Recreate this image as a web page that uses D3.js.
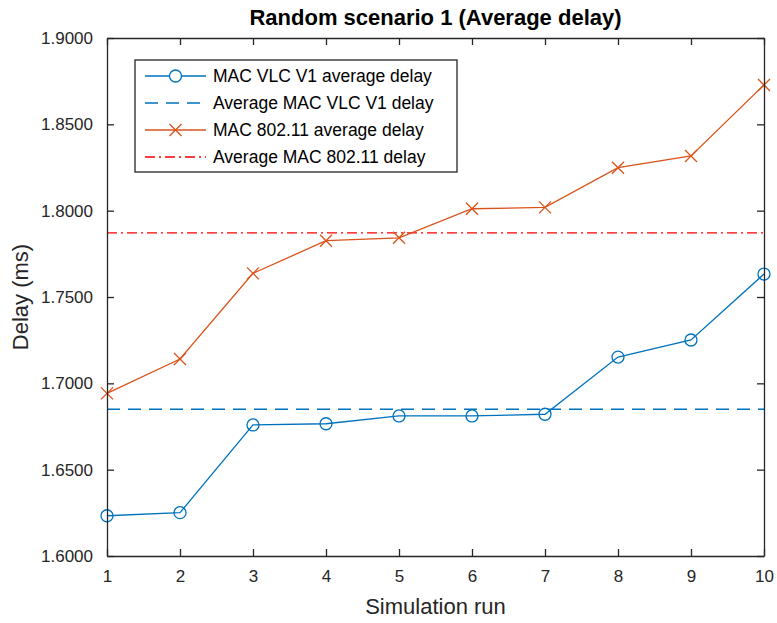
<!DOCTYPE html>
<meta charset="utf-8">
<head>
    <title>Random scenario 1 (Average delay)</title>
    <style>
        body { margin: 0; background: #fff; }
        text { font-family: "Liberation Sans", Arial, sans-serif; fill: #262626; }
    </style>
</head>
<body>
    <script src="https://d3js.org/d3.v7.min.js"></script>
    <script>
        // chart data
        var runs = [1, 2, 3, 4, 5, 6, 7, 8, 9, 10];
        var vlcDelay = [1.6233, 1.6251, 1.6759, 1.6766, 1.6811, 1.6811, 1.6821, 1.7152, 1.7251, 1.7633];
        var wifiDelay = [1.6942, 1.7141, 1.7637, 1.7826, 1.7843, 1.8011, 1.8019, 1.8249, 1.8317, 1.8728];
        var vlcAverage = 1.6850;
        var wifiAverage = 1.7871;
        var yTicks = [1.60, 1.65, 1.70, 1.75, 1.80, 1.85, 1.90];
        var legendLabels = ["MAC VLC V1 average delay", "Average MAC VLC V1 delay",
            "MAC 802.11 average delay", "Average MAC 802.11 delay"];

        var blue = "#0072BD", orange = "#D95319", red = "#FF0000", axisColor = "#262626";

        // margins and dimensions
        var margin = { top: 38, right: 13, bottom: 67, left: 107 };
        var width = 777 - margin.left - margin.right;
        var height = 623 - margin.top - margin.bottom;

        var svg = d3.select("body")
            .append("svg")
            .attr("width", 777)
            .attr("height", 623);

        var g = svg.append("g")
            .attr("transform", "translate(" + margin.left + "," + margin.top + ")");

        var x = d3.scaleLinear().domain([1, 10]).range([0, width]);
        var y = d3.scaleLinear().domain([1.6, 1.9]).range([height, 0]);

        // average lines
        g.append("line")
            .attr("x1", 0).attr("x2", width)
            .attr("y1", y(vlcAverage)).attr("y2", y(vlcAverage))
            .attr("stroke", blue).attr("stroke-width", 1.3)
            .attr("stroke-dasharray", "13,8");

        g.append("line")
            .attr("x1", 0).attr("x2", width)
            .attr("y1", y(wifiAverage)).attr("y2", y(wifiAverage))
            .attr("stroke", red).attr("stroke-width", 1.3)
            .attr("stroke-dasharray", "10,4,2,4");

        var line = d3.line()
            .x(function (d, i) { return x(runs[i]); })
            .y(function (d) { return y(d); });

        // VLC series with circles
        g.append("path")
            .datum(vlcDelay)
            .attr("d", line)
            .attr("fill", "none")
            .attr("stroke", blue)
            .attr("stroke-width", 1.3);

        g.selectAll(".vlc")
            .data(vlcDelay)
            .enter()
            .append("circle")
            .attr("class", "vlc")
            .attr("cx", function (d, i) { return x(runs[i]); })
            .attr("cy", function (d) { return y(d); })
            .attr("r", 6)
            .attr("fill", "none")
            .attr("stroke", blue)
            .attr("stroke-width", 1.3);

        // 802.11 series with crosses
        g.append("path")
            .datum(wifiDelay)
            .attr("d", line)
            .attr("fill", "none")
            .attr("stroke", orange)
            .attr("stroke-width", 1.3);

        function crossPath(cx, cy, s) {
            return "M" + (cx - s) + "," + (cy - s) + "L" + (cx + s) + "," + (cy + s) +
                "M" + (cx - s) + "," + (cy + s) + "L" + (cx + s) + "," + (cy - s);
        }

        g.selectAll(".wifi")
            .data(wifiDelay)
            .enter()
            .append("path")
            .attr("class", "wifi")
            .attr("d", function (d, i) { return crossPath(x(runs[i]), y(d), 6); })
            .attr("stroke", orange)
            .attr("stroke-width", 1.3);

        // axes (box with inward ticks)
        var xAxis = d3.axisBottom(x).tickValues(runs).tickSizeInner(-7).tickSizeOuter(0).tickPadding(14);
        var yAxis = d3.axisLeft(y).tickValues(yTicks).tickSizeInner(-7).tickSizeOuter(0).tickPadding(14)
            .tickFormat(d3.format(".4f"));

        var gx = g.append("g").attr("transform", "translate(0," + height + ")").call(xAxis);
        var gy = g.append("g").call(yAxis);
        var gxTop = g.append("g").call(d3.axisTop(x).tickValues(runs).tickSizeInner(-7).tickSizeOuter(0).tickFormat(""));
        var gyRight = g.append("g").attr("transform", "translate(" + width + ",0)")
            .call(d3.axisRight(y).tickValues(yTicks).tickSizeInner(-7).tickSizeOuter(0).tickFormat(""));

        [gx, gy, gxTop, gyRight].forEach(function (a) {
            a.selectAll("path, line").attr("stroke", axisColor).attr("stroke-width", 1.3);
            a.selectAll("text")
                .style("font-size", "17px")
                .style("font-family", "Liberation Sans, Arial, sans-serif")
                .attr("fill", axisColor);
        });

        // title and axis labels
        svg.append("text")
            .attr("x", margin.left + width / 2)
            .attr("y", 25)
            .attr("text-anchor", "middle")
            .style("font-size", "22px")
            .style("font-weight", "bold")
            .style("fill", "#000")
            .text("Random scenario 1 (Average delay)");

        svg.append("text")
            .attr("x", margin.left + width / 2)
            .attr("y", 614)
            .attr("text-anchor", "middle")
            .style("font-size", "22px")
            .text("Simulation run");

        svg.append("text")
            .attr("transform", "translate(28," + (margin.top + height / 2) + ") rotate(-90)")
            .attr("text-anchor", "middle")
            .style("font-size", "22px")
            .text("Delay (ms)");

        // legend
        var legend = g.append("g")
            .attr("transform", "translate(28,22)");

        legend.append("rect")
            .attr("width", 322)
            .attr("height", 112)
            .attr("fill", "#fff")
            .attr("stroke", axisColor)
            .attr("stroke-width", 1.3);

        var legendStyles = [
            { color: blue, dash: null, marker: "circle" },
            { color: blue, dash: "13,8", marker: null },
            { color: orange, dash: null, marker: "cross" },
            { color: red, dash: "10,4,2,4", marker: null }
        ];

        legendLabels.forEach(function (label, i) {
            var ly = 16 + i * 27;
            var st = legendStyles[i];
            legend.append("line")
                .attr("x1", 10).attr("x2", 71)
                .attr("y1", ly).attr("y2", ly)
                .attr("stroke", st.color)
                .attr("stroke-width", 1.3)
                .attr("stroke-dasharray", st.dash);
            if (st.marker === "circle") {
                legend.append("circle")
                    .attr("cx", 40.5).attr("cy", ly).attr("r", 6)
                    .attr("fill", "#fff").attr("stroke", st.color).attr("stroke-width", 1.3);
            } else if (st.marker === "cross") {
                legend.append("path")
                    .attr("d", crossPath(40.5, ly, 6))
                    .attr("stroke", st.color).attr("stroke-width", 1.3);
            }
            legend.append("text")
                .attr("x", 78)
                .attr("y", ly + 6)
                .style("font-size", "17.5px")
                .style("fill", "#000")
                .text(label);
        });
    </script>
</body>
</html>
